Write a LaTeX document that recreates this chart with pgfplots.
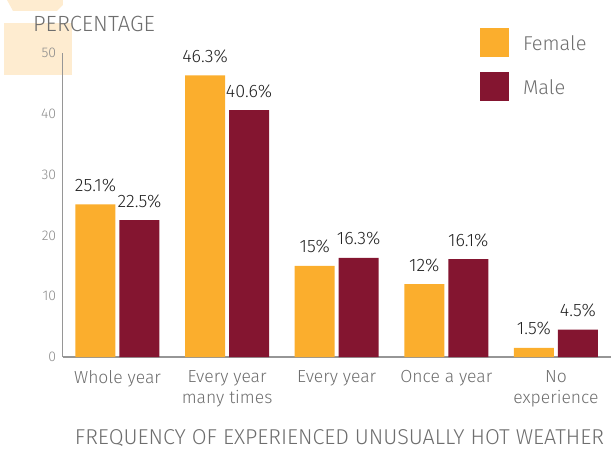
\documentclass[border=0pt]{standalone}
\usepackage{pgfplots}
\pgfplotsset{compat=1.18}
\usepackage{fontspec}
\setmainfont{Fira Sans Light}
\definecolor{fem}{RGB}{251,174,45}
\definecolor{mal}{RGB}{132,21,48}
\definecolor{deco}{RGB}{254,236,208}
\definecolor{lab}{RGB}{110,110,110}
\definecolor{tick}{RGB}{140,140,140}
\definecolor{axl}{RGB}{150,150,150}
\definecolor{val}{RGB}{34,34,34}
\begin{document}
\begin{tikzpicture}
% decorative faded shapes behind the title
\fill[deco] (-58.7bp,282bp) rectangle (9.3bp,334bp);
\fill[deco] (-55.7bp,357bp) -- (0.3bp,357bp) -- (0.3bp,352bp) -- (-5.7bp,346bp) -- (-49.7bp,346bp) -- cycle;
\begin{axis}[
  at={(0,0)}, anchor=south west,
  scale only axis,
  width=548bp, height=304bp,
  xmin=-0.5, xmax=4.5, ymin=0, ymax=50,
  axis x line*=bottom, axis y line*=left,
  axis line style={-, draw=axl, line width=1.2bp},
  major tick length=0pt,
  xtick={0,1,2,3,4},
  xticklabels={Whole year,{Every year\\many times},Every year,Once a year,{No\\experience}},
  xticklabel style={align=center, font=\fontsize{17.5bp}{21bp}\selectfont, text=lab, yshift=-10bp},
  ytick={0,10,...,50},
  yticklabel style={font=\fontsize{14bp}{16bp}\selectfont, text=tick, xshift=-3bp},
  /pgf/number format/assume math mode=true,
  ybar, bar width=40bp,
  nodes near coords={\pgfmathprintnumber[fixed,precision=1,assume math mode=true]{\pgfplotspointmeta}\%},
  every node near coord/.append style={font=\fontsize{18bp}{20bp}\selectfont, text=val, anchor=base, yshift=13bp, inner sep=0pt},
  legend style={draw=none, fill=none, at={(rel axis cs:0.7615,1.082)}, anchor=north west, inner sep=0pt, outer sep=0pt,
    font=\fontsize{20bp}{24bp}\selectfont, text=lab, row sep=15bp,
    /tikz/every odd column/.append style={column sep=14bp},
    nodes={inner sep=0pt}},
  legend image code/.code={\fill[#1] (0bp,-13.5bp) rectangle (29bp,15.5bp);},
  legend cell align=left,
  clip=false,
]
\addplot[fill=fem, draw=none, bar shift=-22bp] coordinates {(0,25.1) (1,46.3) (2,15) (3,12) (4,1.5)};
\addlegendentry{Female}
\addplot[fill=mal, draw=none, bar shift=22bp] coordinates {(0,22.5) (1,40.6) (2,16.3) (3,16.1) (4,4.5)};
\addlegendentry{Male}
\end{axis}
\node[anchor=base west, inner sep=0pt, text=lab, font=\fontsize{22bp}{24bp}\selectfont] at (-29.7bp,325bp) {PERCENTAGE};
\node[anchor=base, inner sep=0pt, text=lab, font=\fontsize{21.5bp}{24bp}\selectfont] at (276.8bp,-87.5bp) {FREQUENCY OF EXPERIENCED UNUSUALLY HOT WEATHER};
\pgfresetboundingbox
\path[use as bounding box] (-62.7bp,-93bp) rectangle (549.3bp,357bp);
\end{tikzpicture}
\end{document}
